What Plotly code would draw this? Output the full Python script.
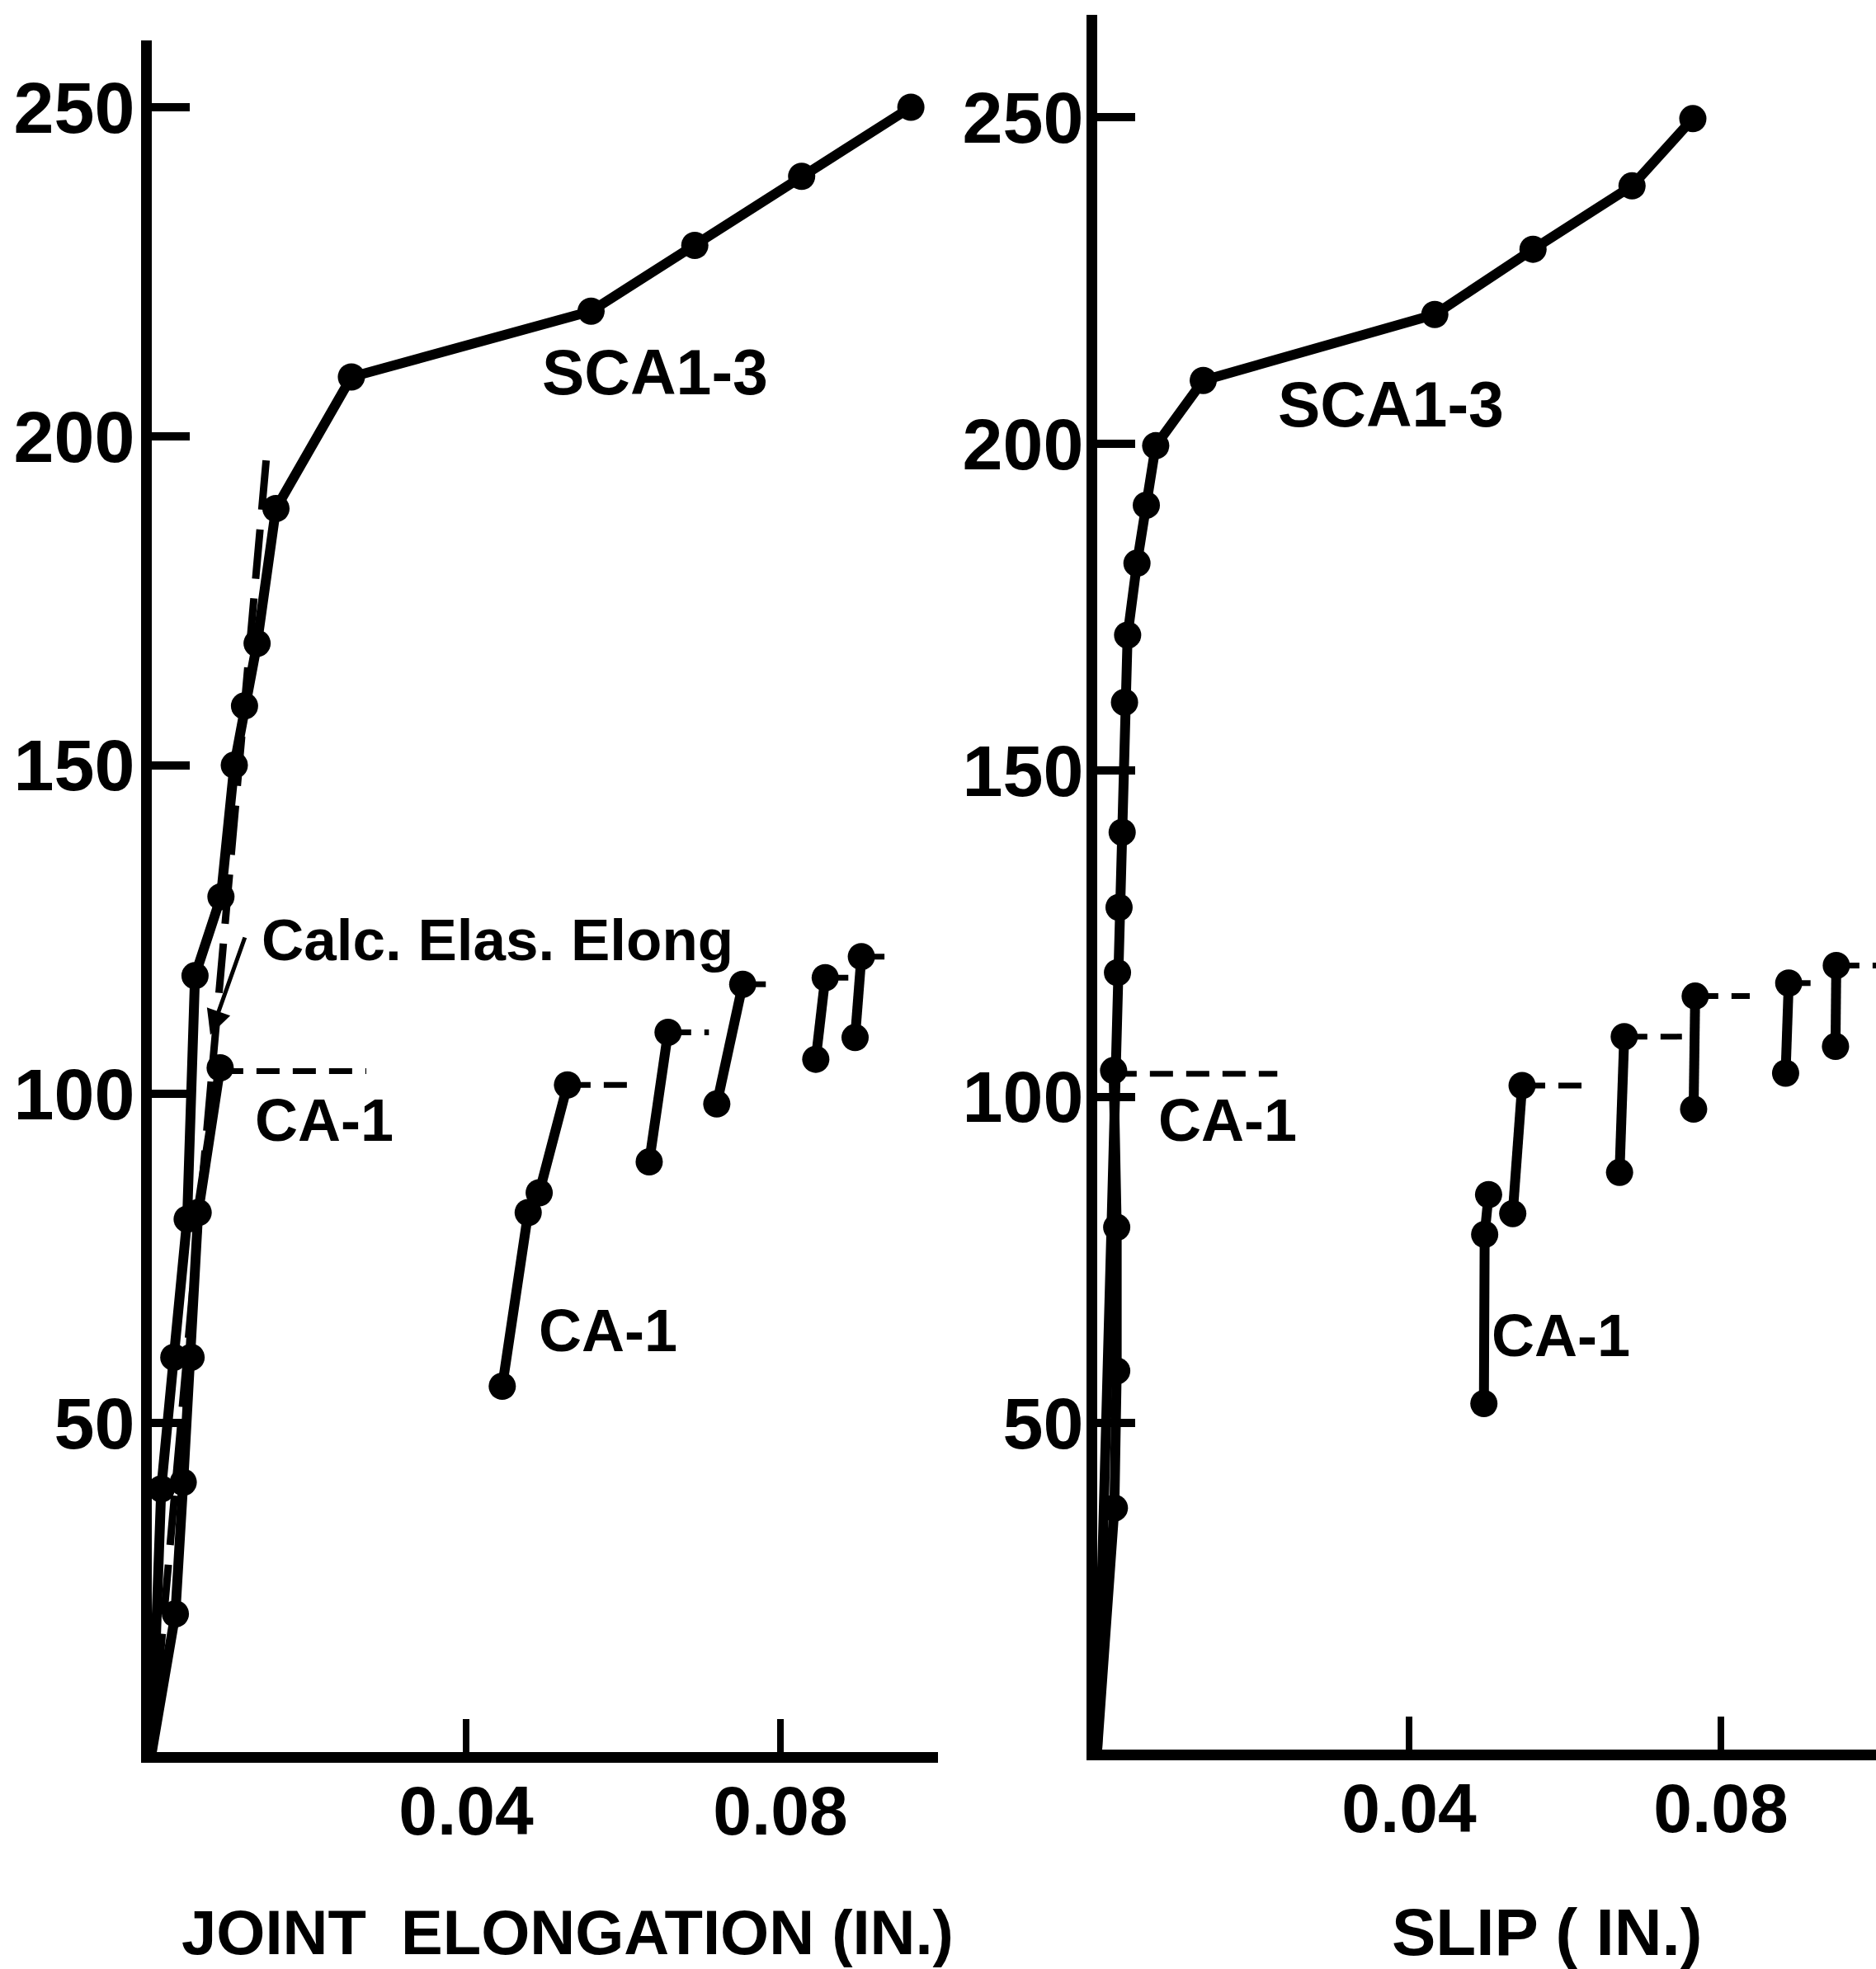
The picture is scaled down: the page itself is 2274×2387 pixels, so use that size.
import plotly.graph_objects as go

# ---------------- data (load in kips vs. deformation in inches) ----------------
y_tick_vals = [50, 100, 150, 200, 250]
y_tick_text = ["50", "100", "150", "200", "250"]
x_tick_vals = [0.04, 0.08]
x_tick_text = ["0.04", "0.08"]

# Left panel: joint elongation
scai_elong_x = [0, 0.0012, 0.0028, 0.0045, 0.0055, 0.0088, 0.0105, 0.0118, 0.0134, 0.0158,
                0.0254, 0.0559, 0.0691, 0.0827, 0.0966]
scai_elong_y = [0, 40, 60, 81, 118, 130, 150, 159, 168.5, 189, 209, 219, 229, 239.5, 250]

ca1_elong_init_x = [0, 0.0030, 0.0040, 0.0050, 0.0059, 0.0087]
ca1_elong_init_y = [0, 21, 41, 60, 82, 104]
ca1_elong_init_dash = [0.0087, 0.0273]

ca1_elong_seg_x = [[0.0446, 0.0479, 0.0493, 0.0529], [0.0633, 0.0657], [0.0719, 0.0752],
                   [0.0845, 0.0857], [0.0895, 0.0903]]
ca1_elong_seg_y = [[55.6, 82.0, 85.0, 101.4], [89.7, 109.4], [98.5, 116.7],
                   [105.3, 117.7], [108.6, 120.9]]
ca1_elong_dash_end = [0.0616, 0.0709, 0.0796, 0.0888, 0.0938]

calc_elas_x = [0, 0.0146]
calc_elas_y = [0, 197]

# Right panel: slip
scai_slip_x = [0, 0.0026, 0.0028, 0.0032, 0.0035, 0.0039, 0.0051, 0.0063, 0.0075, 0.0136,
               0.0433, 0.0559, 0.0686, 0.0764]
scai_slip_y = [0, 119, 129, 140.5, 160.4, 170.7, 181.7, 190.6, 199.7, 209.7,
               219.8, 229.8, 239.5, 249.8]

ca1_slip_init_x = [0, 0.0022, 0.0025, 0.0025, 0.0021]
ca1_slip_init_y = [0, 37, 58, 80, 104]
ca1_slip_init_dash = [0.0021, 0.0231]

ca1_slip_seg_x = [[0.0496, 0.0497, 0.0502], [0.0533, 0.0545], [0.0670, 0.0676],
                  [0.0765, 0.0767], [0.0883, 0.0887], [0.0947, 0.0948]]
ca1_slip_seg_y = [[53.0, 78.9, 85.0], [82.1, 101.7], [88.4, 109.2],
                  [98.1, 115.4], [103.6, 117.4], [107.7, 120.1]]
ca1_slip_dash_end = [None, 0.0628, 0.0750, 0.0837, 0.0915, 0.0999]

# ---------------- geometry (pixels) ----------------
W, H = 2274, 2387
FONT = "Liberation Sans, Arial, sans-serif"
MS = 33
LW = 12


def join(xs_list, ys_list):
    X, Y = [], []
    for xs, ys in zip(xs_list, ys_list):
        X += list(xs) + [None]
        Y += list(ys) + [None]
    return X, Y


def dashes(xs_list, ys_list, ends):
    X, Y = [], []
    for xs, ys, e in zip(xs_list, ys_list, ends):
        if e is None:
            continue
        X += [xs[-1], e, None]
        Y += [ys[-1], ys[-1], None]
    return X, Y


fig = go.Figure()


def add_panel(xa, ya, scai_x, scai_y, init_x, init_y, init_dash, seg_x, seg_y, dash_end, calc=None):
    if calc is not None:
        fig.add_trace(go.Scatter(x=calc[0], y=calc[1], mode="lines", xaxis=xa, yaxis=ya,
                                 line=dict(color="black", width=9, dash="60px,24px"),
                                 showlegend=False, hoverinfo="skip"))
    # dashed extensions
    dx, dy = dashes(seg_x, seg_y, dash_end)
    dx += [init_dash[0], init_dash[1], None]
    dy += [init_y[-1] - 0.5, init_y[-1] - 0.5, None]
    fig.add_trace(go.Scatter(x=dx, y=dy, mode="lines", xaxis=xa, yaxis=ya,
                             line=dict(color="black", width=7, dash="28px,16px"),
                             showlegend=False, hoverinfo="skip"))
    # CA-1 solid lines
    sx, sy = join([init_x] + seg_x, [init_y] + seg_y)
    fig.add_trace(go.Scatter(x=sx, y=sy, mode="lines", xaxis=xa, yaxis=ya,
                             line=dict(color="black", width=LW),
                             showlegend=False, hoverinfo="skip"))
    mx = init_x[1:] + [v for s in seg_x for v in s]
    my = init_y[1:] + [v for s in seg_y for v in s]
    fig.add_trace(go.Scatter(x=mx, y=my, mode="markers", xaxis=xa, yaxis=ya,
                             marker=dict(color="black", size=MS),
                             name="CA-1", showlegend=False))
    # SCA1-3
    fig.add_trace(go.Scatter(x=scai_x, y=scai_y, mode="lines", xaxis=xa, yaxis=ya,
                             line=dict(color="black", width=LW),
                             showlegend=False, hoverinfo="skip"))
    fig.add_trace(go.Scatter(x=scai_x[1:], y=scai_y[1:], mode="markers", xaxis=xa, yaxis=ya,
                             marker=dict(color="black", size=MS),
                             name="SCA1-3", showlegend=False))


add_panel("x", "y", scai_elong_x, scai_elong_y, ca1_elong_init_x, ca1_elong_init_y,
          ca1_elong_init_dash, ca1_elong_seg_x, ca1_elong_seg_y, ca1_elong_dash_end,
          calc=(calc_elas_x, calc_elas_y))
add_panel("x2", "y2", scai_slip_x, scai_slip_y, ca1_slip_init_x, ca1_slip_init_y,
          ca1_slip_init_dash, ca1_slip_seg_x, ca1_slip_seg_y, ca1_slip_dash_end)

# Left panel pixel frame
L_x0, L_x1 = 184, 184 + 0.10 * 9525
L_y0, L_ytop = 2124, 48.7
L_ymax = (L_y0 - L_ytop) / 7.976
# Right panel pixel frame
R_x0, R_x1 = 1330, W
R_xmax = (R_x1 - R_x0) / 9450
R_y0, R_ytop = 2121, 18
R_ymax = (R_y0 - R_ytop) / 7.915

axis_common = dict(showgrid=False, zeroline=False, showline=True, linecolor="black",
                   linewidth=13, ticks="inside", tickcolor="black")
ytick_font = dict(family=FONT, size=88, color="black", weight="bold")
xtick_font = dict(family=FONT, size=84, color="black", weight="bold")

fig.update_layout(
    width=W, height=H, margin=dict(l=0, r=0, t=0, b=0),
    paper_bgcolor="white", plot_bgcolor="white", showlegend=False,
    xaxis=dict(domain=[L_x0 / W, L_x1 / W], range=[0, 0.10], anchor="y",
               tickvals=x_tick_vals, ticktext=x_tick_text, ticklen=40, tickwidth=8,
               ticklabelstandoff=-14, tickfont=xtick_font, **axis_common),
    yaxis=dict(domain=[(H - L_y0) / H, (H - L_ytop) / H], range=[0, L_ymax], anchor="x",
               tickvals=y_tick_vals, ticktext=y_tick_text, ticklen=46, tickwidth=10,
               ticklabelstandoff=-10, tickfont=ytick_font, **axis_common),
    xaxis2=dict(domain=[R_x0 / W, 1.0], range=[0, R_xmax], anchor="y2",
                tickvals=x_tick_vals, ticktext=x_tick_text, ticklen=40, tickwidth=8,
                ticklabelstandoff=-14, tickfont=xtick_font, **axis_common),
    yaxis2=dict(domain=[(H - R_y0) / H, (H - R_ytop) / H], range=[0, R_ymax], anchor="x2",
                tickvals=y_tick_vals, ticktext=y_tick_text, ticklen=46, tickwidth=10,
                ticklabelstandoff=-14, tickfont=ytick_font, **axis_common),
)

lab_font = dict(family=FONT, size=77, color="black", weight="bold")
ca_font = dict(family=FONT, size=72, color="black", weight="bold")
annos = [
    dict(x=0.0640, y=209.8, xref="x", yref="y", text="SCA1-3", font=lab_font),
    dict(x=0.0377, y=206.1, xref="x2", yref="y2", text="SCA1-3", font=lab_font),
    dict(x=0.0219, y=96.0, xref="x", yref="y", text="CA-1", font=ca_font),
    dict(x=0.0581, y=64.1, xref="x", yref="y", text="CA-1", font=ca_font),
    dict(x=0.0167, y=96.4, xref="x2", yref="y2", text="CA-1", font=ca_font),
    dict(x=0.0595, y=63.4, xref="x2", yref="y2", text="CA-1", font=ca_font),
    dict(x=0.01375, y=123.4, xref="x", yref="y", text="Calc. Elas. Elong", xanchor="left",
         font=dict(family=FONT, size=71, color="black", weight="bold")),
    dict(x=688 / W, y=(H - 2342) / H, xref="paper", yref="paper", text="JOINT  ELONGATION (IN.)",
         font=dict(family=FONT, size=76, color="black", weight="bold")),
    dict(x=1875 / W, y=(H - 2342) / H, xref="paper", yref="paper", text="SLIP ( IN.)",
         font=dict(family=FONT, size=80, color="black", weight="bold")),
]
for a in annos:
    a.setdefault("xanchor", "center")
    a.setdefault("yanchor", "middle")
    a["showarrow"] = False
    fig.add_annotation(**a)

# leader arrow for the calculated elastic elongation line
fig.add_annotation(x=0.00745, y=109, xref="x", yref="y", ax=0.0119, ay=124.0,
                   axref="x", ayref="y", text="", showarrow=True, arrowhead=2,
                   arrowsize=1.2, arrowwidth=5, arrowcolor="black")

fig.write_html("out.html")
